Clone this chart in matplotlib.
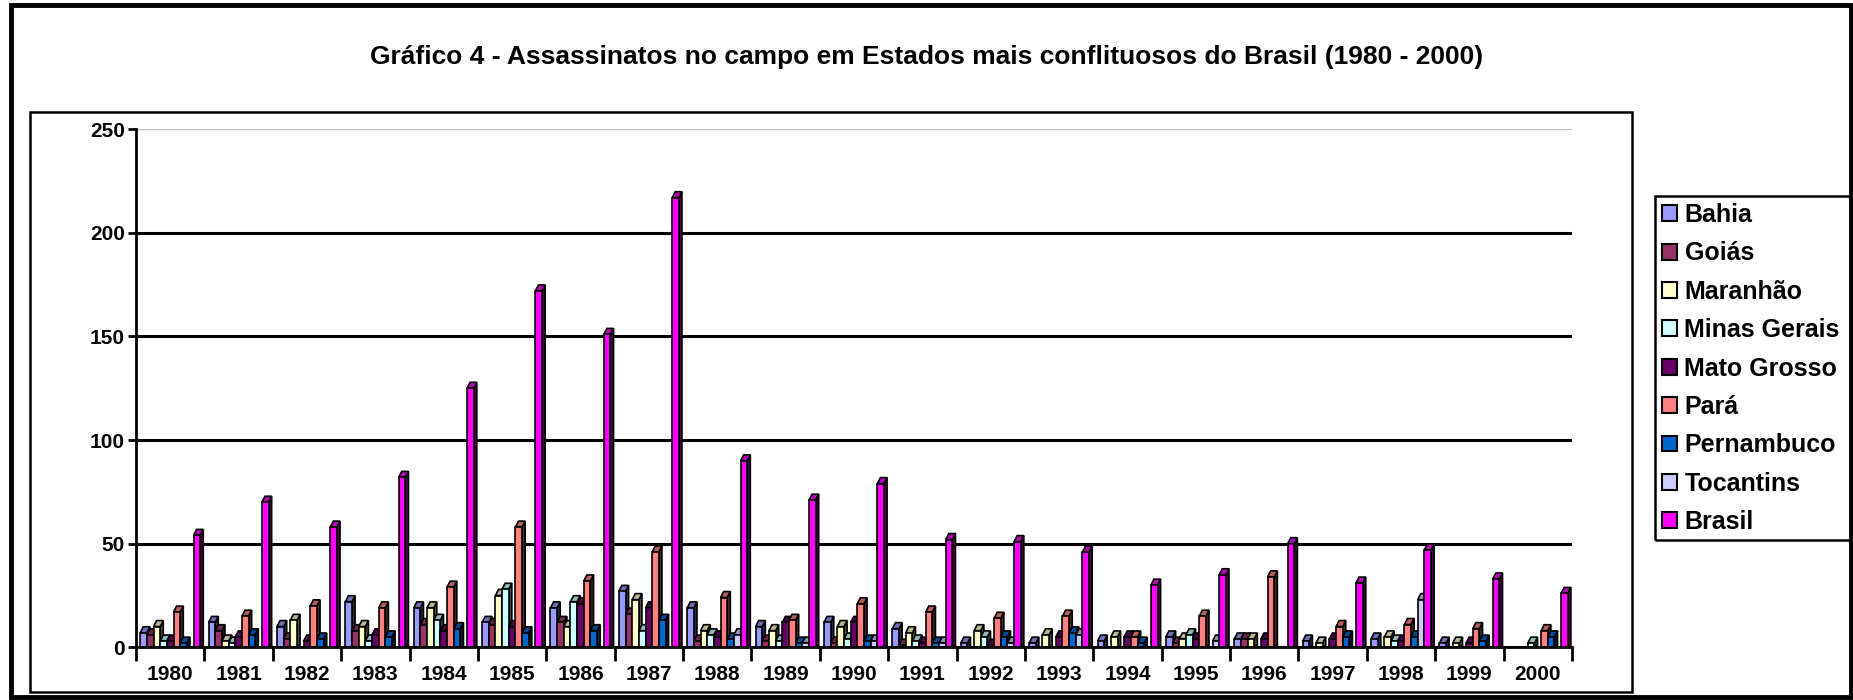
import numpy as np
import matplotlib.pyplot as plt
from matplotlib.patches import Polygon, Rectangle, Patch
from matplotlib.colors import to_rgb

plt.rcParams['font.family'] = ['Liberation Sans', 'DejaVu Sans']
plt.rcParams['font.weight'] = 'bold'

#%% dados
anos = [str(a) for a in range(1980, 2001)]

bahia      = [7, 12, 10, 22, 19, 12, 19, 27, 19, 10, 12, 9, 2, 2, 3, 5, 4, 3, 4, 2, 0]
goias      = [6, 8, 4, 8, 11, 11, 12, 16, 3, 3, 2, 1, 0, 0, 0, 2, 4, 0, 0, 0, 0]
maranhao   = [10, 3, 13, 10, 19, 25, 10, 23, 8, 8, 10, 7, 8, 6, 5, 4, 4, 2, 5, 2, 0]
minas      = [3, 2, 0, 3, 13, 28, 22, 8, 6, 3, 4, 3, 5, 0, 0, 6, 0, 0, 3, 0, 2]
mato_gr    = [3, 5, 3, 6, 8, 10, 21, 19, 5, 12, 12, 2, 1, 5, 5, 4, 4, 4, 3, 2, 0]
para       = [17, 15, 20, 19, 29, 58, 32, 46, 24, 13, 21, 17, 14, 15, 5, 15, 34, 10, 11, 9, 8]
pernambuco = [2, 6, 4, 5, 9, 7, 8, 13, 4, 2, 3, 2, 5, 7, 2, 0, 0, 5, 5, 3, 5]
tocantins  = [0, 0, 0, 0, 0, 0, 0, 0, 6, 2, 3, 2, 2, 6, 0, 3, 0, 0, 23, 0, 0]
brasil     = [54, 70, 58, 82, 125, 172, 151, 217, 90, 71, 79, 52, 51, 46, 30, 35, 50, 31, 47, 33, 26]

nomes = ['Bahia', 'Goiás', 'Maranhão', 'Minas Gerais', 'Mato Grosso',
         'Pará', 'Pernambuco', 'Tocantins', 'Brasil']
valores = [bahia, goias, maranhao, minas, mato_gr, para, pernambuco, tocantins, brasil]
cores = ['#9999FF', '#993366', '#FFFFCC', '#CCFFFF', '#660066',
         '#FF8080', '#0066CC', '#CCCCFF', '#FF00FF']


def escurece(c, f):
    r, g, b = to_rgb(c)
    return (r*f, g*f, b*f)


#%% figura
W, H = 1853, 700
fig = plt.figure(figsize=(W/100, H/100), dpi=100)

# molduras
fig.patches.append(Rectangle((11/W, 3/H), (1851-11)/W, (695-3)/H, transform=fig.transFigure,
                             fill=False, edgecolor='black', linewidth=3.5, zorder=0))
fig.patches.append(Rectangle((30/W, 8/H), (1632-30)/W, (588-8)/H, transform=fig.transFigure,
                             fill=False, edgecolor='black', linewidth=1.8, zorder=0))
fig.patches.append(Rectangle((1655/W, 160/H), 220/W, 344/H, transform=fig.transFigure,
                             fill=False, edgecolor='black', linewidth=1.8, zorder=0))

ax = fig.add_axes([136/W, 52.7/H, (1572-136)/W, (647.3-129.3)/H])

x = np.arange(len(anos))
w = 0.0975
dx = 0.045
dy = 2.9
borda = 1.2

for i, (nome, vals, cor) in enumerate(zip(nomes, valores, cores)):
    pos = x + (i - 4) * w
    z = 3 + i*0.1
    lw = [0 if v == 0 else borda for v in vals]
    ax.bar(pos, vals, w, color=cor, edgecolor='black', linewidth=lw, zorder=z + 0.02)
    for p, v in zip(pos, vals):
        if v == 0:
            continue
        xl, xr = p - w/2, p + w/2
        lado = Polygon([(xr, 0), (xr + dx, dy*0.3), (xr + dx, v + dy), (xr, v)],
                       closed=True, facecolor=escurece(cor, 0.3), edgecolor='black',
                       linewidth=borda, zorder=z)
        topo = Polygon([(xl, v), (xr, v), (xr + dx, v + dy), (xl + dx, v + dy)],
                       closed=True, facecolor=escurece(cor, 0.72), edgecolor='black',
                       linewidth=borda, zorder=z + 0.01)
        ax.add_patch(lado)
        ax.add_patch(topo)

ax.set_xlim(-0.5, 20.5)
ax.set_ylim(0, 250)
ax.set_yticks(np.arange(0, 251, 50))
ax.set_xticks(np.arange(-0.5, 21, 1))
ax.set_xticklabels([])
ax.set_xticks(x, minor=True)
ax.set_xticklabels(anos, minor=True)
ax.tick_params(axis='x', which='major', length=10, width=2, direction='out')
ax.tick_params(axis='x', which='minor', length=0, pad=13, labelsize=15)
ax.tick_params(axis='y', length=6, width=2, direction='out', pad=2, labelsize=15)

ax.yaxis.grid(True, color='black', linewidth=2.2, zorder=1)
ax.set_axisbelow(True)
for linha, t in zip(ax.get_ygridlines(), ax.get_yticks()):
    if t == 250:
        linha.set_color('#bbbbbb')
        linha.set_linewidth(1)

for s in ['top', 'right']:
    ax.spines[s].set_visible(False)
for s in ['left', 'bottom']:
    ax.spines[s].set_linewidth(2)
    ax.spines[s].set_zorder(5)

fig.text(927/W, 1 - 57/H,
         'Gráfico 4 - Assassinatos no campo em Estados mais conflituosos do Brasil (1980 - 2000)',
         ha='center', va='center', fontsize=19, fontweight='bold')

handles = [Patch(facecolor=c, edgecolor='black', linewidth=1.5) for c in cores]
fig.legend(handles, nomes, loc='upper left', bbox_to_anchor=(1657/W, 1 - 198/H),
           frameon=False, fontsize=18, handlelength=0.6, handleheight=0.6,
           handletextpad=0.3, labelspacing=0.575, borderpad=0.2, borderaxespad=0)

fig.savefig('out.png', dpi=100)
